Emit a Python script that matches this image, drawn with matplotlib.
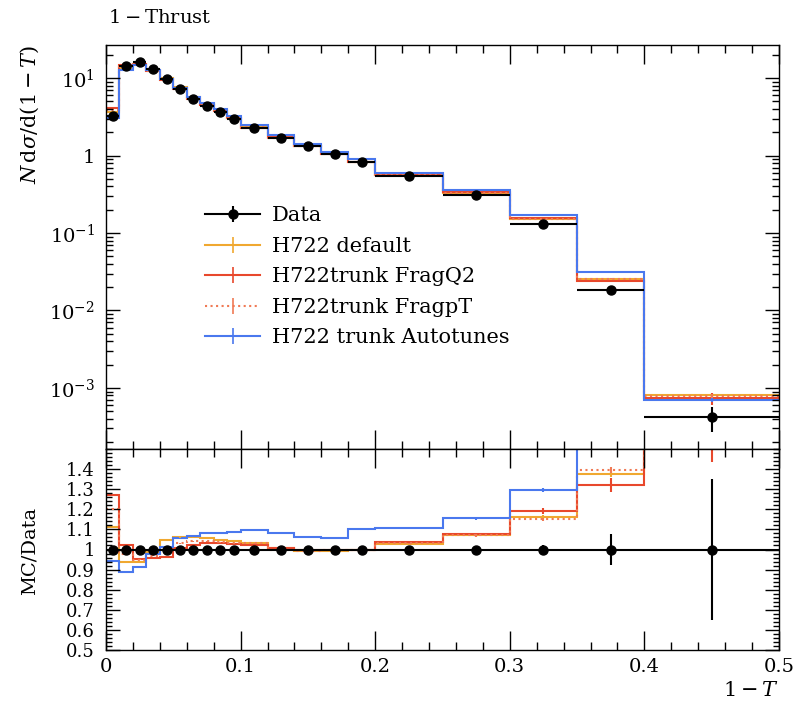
import numpy as np
import matplotlib
matplotlib.use("Agg")
import matplotlib.pyplot as plt
from matplotlib.ticker import FixedLocator, MultipleLocator, LogLocator, NullFormatter, FuncFormatter
from matplotlib.lines import Line2D
from matplotlib.legend_handler import HandlerTuple

# ---------------- data ----------------
edges = [0.0, 0.01, 0.02, 0.03, 0.04, 0.05, 0.06, 0.07, 0.08, 0.09, 0.10,
         0.12, 0.14, 0.16, 0.18, 0.20, 0.25, 0.30, 0.35, 0.40, 0.50]

data = [3.24, 14.3, 16.0, 12.9, 9.7, 7.15, 5.3, 4.35, 3.67, 2.96,
        2.24, 1.70, 1.33, 1.05, 0.82, 0.545, 0.31, 0.13, 0.0184, 0.00042]
data_err = [0.05, 0.15, 0.15, 0.12, 0.09, 0.06, 0.04, 0.035, 0.03, 0.025,
            0.015, 0.012, 0.01, 0.008, 0.006, 0.004, 0.003, 0.0026, 0.0014, 0.000147]

h722_default = [3.596, 13.44, 15.04, 12.77, 10.14, 7.579, 5.618, 4.589, 3.835, 3.078,
                2.318, 1.709, 1.317, 1.040, 0.820, 0.5586, 0.3317, 0.1508, 0.0253, 0.000811]
h722_fragq2 = [4.115, 14.59, 15.28, 12.38, 9.36, 7.186, 5.406, 4.481, 3.780, 3.034,
               2.285, 1.709, 1.330, 1.050, 0.820, 0.5641, 0.3333, 0.1547, 0.02429, 0.000735]
h722_fragpt = [3.888, 14.01, 15.2, 12.51, 9.70, 7.365, 5.512, 4.524, 3.798, 3.049,
               2.307, 1.700, 1.323, 1.045, 0.820, 0.5614, 0.3317, 0.1495, 0.02567, 0.00079]
h722_autotunes = [3.062, 12.73, 14.64, 12.64, 9.797, 7.543, 5.645, 4.698, 3.964, 3.212,
                  2.453, 1.836, 1.410, 1.108, 0.902, 0.6022, 0.358, 0.1684, 0.03165, 0.000697]

# relative MC statistical uncertainties
rel_err_default = [0.004, 0.003, 0.003, 0.003, 0.003, 0.003, 0.003, 0.003, 0.003, 0.003,
                   0.003, 0.003, 0.003, 0.004, 0.004, 0.004, 0.006, 0.008, 0.01, 0.06]
rel_err_fragq2 = [0.004, 0.003, 0.003, 0.003, 0.003, 0.003, 0.003, 0.003, 0.003, 0.003,
                  0.003, 0.003, 0.003, 0.004, 0.004, 0.004, 0.006, 0.012, 0.027, 0.18]
rel_err_fragpt = [0.004, 0.003, 0.003, 0.003, 0.003, 0.003, 0.003, 0.003, 0.003, 0.003,
                  0.003, 0.003, 0.003, 0.004, 0.004, 0.004, 0.006, 0.008, 0.01, 0.06]
rel_err_autotunes = [0.004, 0.003, 0.003, 0.003, 0.003, 0.003, 0.003, 0.003, 0.003, 0.003,
                     0.003, 0.003, 0.003, 0.004, 0.004, 0.004, 0.006, 0.008, 0.01, 0.06]

labels = ["H722 default", "H722trunk FragQ2", "H722trunk FragpT", "H722 trunk Autotunes"]
colors = ["#F0A830", "#E8482C", "#F07A55", "#4A78EE"]
styles = ["-", "-", ":", "-"]
series = [h722_default, h722_fragq2, h722_fragpt, h722_autotunes]
errors = [rel_err_default, rel_err_fragq2, rel_err_fragpt, rel_err_autotunes]

# ---------------- style ----------------
plt.rcParams["font.family"] = ["DejaVu Serif"]
plt.rcParams["mathtext.fontset"] = "dejavuserif"
FS = 13

edges_a = np.array(edges)
centers = 0.5 * (edges_a[:-1] + edges_a[1:])
halfw = 0.5 * np.diff(edges_a)
data_a = np.array(data)
derr_a = np.array(data_err)

fig = plt.figure(figsize=(7.96, 7.11), dpi=100)
ax = fig.add_axes([106 / 796, 1 - 449 / 711, 673 / 796, 404 / 711])
rax = fig.add_axes([106 / 796, 1 - 650 / 711, 673 / 796, 201 / 711])

lw = 1.5
for vals, rel, c, ls in zip(series, errors, colors, styles):
    v = np.array(vals)
    e = v * np.array(rel)
    ax.stairs(v, edges_a, baseline=None, color=c, lw=lw, ls=ls)
    ax.errorbar(centers, v, yerr=e, fmt="none", ecolor=c, elinewidth=lw)
    r = v / data_a
    rax.stairs(r, edges_a, baseline=None, color=c, lw=lw, ls=ls)
    rax.errorbar(centers, r, yerr=e / data_a, fmt="none", ecolor=c, elinewidth=lw)

ax.errorbar(centers, data_a, xerr=halfw, yerr=derr_a, fmt="o", color="black",
            ms=6.5, elinewidth=1.5, capsize=0, zorder=5)
rax.errorbar(centers, np.ones_like(data_a), xerr=halfw, yerr=derr_a / data_a, fmt="o",
             color="black", ms=6.5, elinewidth=1.5, capsize=0, zorder=5)

# ---------------- axes ----------------
ax.set_yscale("log")
ax.set_xlim(0, 0.5)
ax.set_ylim(1.63e-4, 26.7)
rax.set_xlim(0, 0.5)
rax.set_ylim(0.5, 1.5)

def logfmt(y, pos):
    n = int(round(np.log10(y)))
    if n == 0:
        return "1"
    return r"$10^{%d}$" % n

ax.yaxis.set_major_locator(LogLocator(base=10, numticks=20))
ax.yaxis.set_minor_locator(LogLocator(base=10, subs=np.arange(2, 10), numticks=20))
ax.yaxis.set_major_formatter(FuncFormatter(logfmt))
ax.yaxis.set_minor_formatter(NullFormatter())

for a in (ax, rax):
    a.xaxis.set_major_locator(MultipleLocator(0.1))
    a.xaxis.set_minor_locator(MultipleLocator(0.02))
    a.tick_params(which="both", direction="in", top=True, right=True, labelsize=FS + 1, width=1.0)
    a.tick_params(which="major", length=14)
    a.tick_params(which="minor", length=6)
    a.tick_params(axis="y", pad=8)
    a.tick_params(axis="x", pad=6)
    for s in a.spines.values():
        s.set_linewidth(1.0)
ax.tick_params(axis="y", which="major", length=10)
ax.tick_params(axis="y", which="minor", length=5)
ax.tick_params(labelbottom=False)

rax.yaxis.set_major_locator(FixedLocator([0.5, 0.6, 0.7, 0.8, 0.9, 1.0, 1.1, 1.2, 1.3, 1.4]))
rax.yaxis.set_minor_locator(MultipleLocator(0.02))
rax.yaxis.set_major_formatter(FuncFormatter(lambda y, p: "%g" % round(y, 2)))
rax.xaxis.set_major_formatter(FuncFormatter(lambda x, p: "%g" % round(x, 2)))
rax.tick_params(axis="y", which="major", length=10, labelsize=FS)
rax.tick_params(axis="y", which="minor", length=4)

# ---------------- texts ----------------
fig.text(108 / 796, 1 - 18 / 711, r"$1-\mathrm{Thrust}$", ha="left", va="center", fontsize=FS + 1)
fig.text(30 / 796, 1 - 45 / 711, r"$N\,\mathrm{d}\sigma/\mathrm{d}(1-T)$", rotation=90,
         ha="center", va="top", fontsize=FS + 2)
fig.text(30 / 796, 1 - 551 / 711, "MC/Data", rotation=90, ha="center", va="center", fontsize=FS + 1)
fig.text(779 / 796, 1 - 690 / 711, r"$1-T$", ha="right", va="center", fontsize=FS + 2)

# ---------------- legend ----------------
handles = [(Line2D([], [], color="black", lw=1.5),
            Line2D([], [], color="black", marker="|", ms=11, mew=1.5, ls="none"),
            Line2D([], [], color="black", marker="o", ms=6.5, ls="none"))]
for c, ls in zip(colors, styles):
    handles.append((Line2D([], [], color=c, lw=lw, ls=ls),
                    Line2D([], [], color=c, marker="|", ms=11, mew=1.2, ls="none")))
leg = ax.legend(handles, ["Data"] + labels, handler_map={tuple: HandlerTuple(ndivide=1, pad=0)},
                loc="center left", bbox_to_anchor=(0.147, 0.426), frameon=False,
                fontsize=FS + 2, handlelength=2.65, handletextpad=0.55, labelspacing=0.55,
                borderpad=0, borderaxespad=0)

fig.savefig("out.png", dpi=100)
